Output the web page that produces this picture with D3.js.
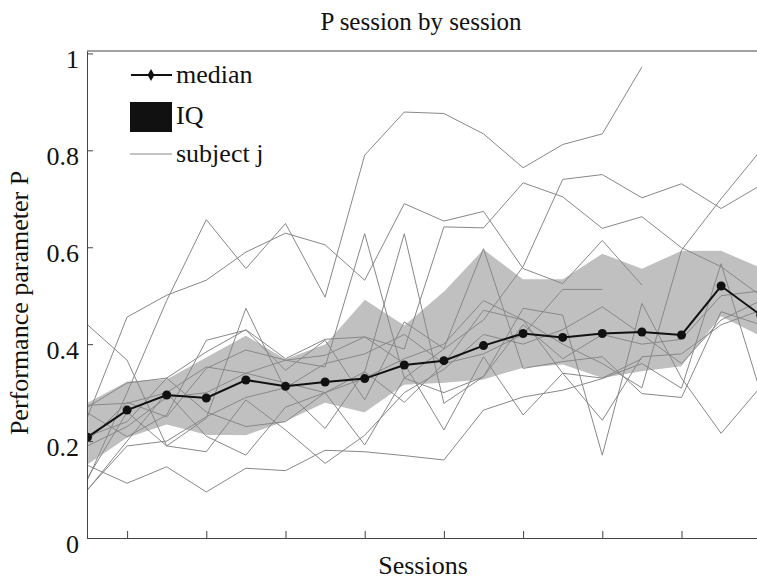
<!DOCTYPE html>
<html>
<head>
<meta charset="utf-8">
<script src="https://cdn.jsdelivr.net/npm/d3@7"></script>
<style>
  body { margin: 0; background: #fff; }
  svg text { font-family: "Liberation Serif", "Times New Roman", Tinos, Times, "DejaVu Serif", "Noto Serif", serif !important; fill: #111; }
</style>
</head>
<body>
<div id="chart"></div>
<script>
// sessions 1..18
const sessions = d3.range(1, 19);

const median = [0.208, 0.264, 0.295, 0.289, 0.326, 0.313, 0.322, 0.329, 0.357, 0.366, 0.397, 0.422, 0.414, 0.422, 0.425, 0.419, 0.52, 0.46];
const iqHigh = [0.28, 0.324, 0.329, 0.374, 0.419, 0.37, 0.401, 0.493, 0.44, 0.51, 0.597, 0.535, 0.535, 0.588, 0.557, 0.594, 0.594, 0.559];
const iqLow  = [0.15, 0.206, 0.233, 0.212, 0.211, 0.24, 0.278, 0.258, 0.315, 0.319, 0.326, 0.35, 0.357, 0.329, 0.343, 0.353, 0.456, 0.415];

// individual subjects (null = no session)
const subj1  = [0.12, 0.30, 0.49, 0.657, 0.556, 0.649, 0.497, 0.79, 0.879, 0.876, 0.834, 0.764, 0.812, 0.834, 0.972, null, null, null];
const subj2  = [0.25, 0.456, 0.501, 0.532, 0.59, 0.629, 0.605, 0.532, 0.69, 0.654, 0.674, 0.556, 0.525, 0.614, 0.522, null, null, null];
const subj3  = [0.27, 0.32, 0.33, 0.384, 0.43, 0.37, 0.41, 0.415, 0.39, 0.642, 0.64, 0.733, 0.704, 0.639, 0.663, 0.599, 0.56, 0.50];
const subj4  = [0.20, 0.28, 0.25, 0.35, 0.388, 0.367, 0.353, 0.628, 0.33, 0.39, 0.45, 0.56, 0.74, 0.75, 0.702, 0.731, 0.68, 0.728];
const subj5  = [0.10, 0.19, 0.20, 0.25, 0.29, 0.31, 0.36, 0.38, 0.42, 0.36, 0.47, 0.45, 0.40, 0.36, 0.31, 0.594, 0.70, 0.80];
const subj6  = [0.44, 0.367, 0.19, 0.247, 0.474, 0.305, 0.226, 0.343, 0.628, 0.278, 0.333, 0.474, 0.46, 0.171, 0.484, 0.33, 0.216, 0.312];
const subj7  = [0.258, 0.209, 0.254, 0.408, 0.429, 0.346, 0.408, 0.285, 0.446, 0.391, 0.597, 0.35, 0.364, 0.374, 0.298, 0.29, 0.467, 0.44];
const subj8  = [0.15, 0.113, 0.147, 0.095, 0.144, 0.139, 0.181, 0.178, 0.17, 0.161, 0.264, 0.291, 0.305, 0.329, 0.36, 0.309, 0.566, 0.30];
const subj9  = [0.274, 0.278, 0.30, 0.353, 0.34, 0.367, 0.377, 0.415, 0.36, 0.223, 0.374, 0.254, 0.34, 0.243, 0.374, 0.38, 0.44, 0.47];
const subj10 = [0.124, 0.26, 0.19, 0.178, 0.285, 0.223, 0.154, 0.212, 0.30, 0.348, 0.42, 0.40, 0.43, 0.477, 0.42, 0.36, 0.45, 0.49];
const subj11 = [0.099, 0.20, 0.30, 0.21, 0.171, 0.27, 0.30, 0.192, 0.33, 0.30, 0.333, 0.44, 0.37, 0.42, 0.40, 0.41, 0.50, 0.51];
const subj12 = [0.19, 0.23, 0.29, 0.30, 0.34, 0.32, 0.30, 0.343, 0.28, 0.36, 0.38, 0.42, 0.513, 0.513, null, null, null, null];
const subj13 = [0.21, 0.24, 0.33, 0.26, 0.23, 0.24, 0.30, 0.33, 0.37, 0.40, 0.49, 0.45, 0.34, 0.33, 0.37, null, null, null];
const subjects = [subj1, subj2, subj3, subj4, subj5, subj6, subj7, subj8, subj9, subj10, subj11, subj12, subj13];

const yTicks = [0, 0.2, 0.4, 0.6, 0.8, 1];
const xTicks = [2, 4, 6, 8, 10, 12, 14, 16];

const FONT = "'Liberation Serif', 'Times New Roman', Tinos, Times, 'DejaVu Serif', serif";
const W = 757, H = 580;
const svg = d3.select("#chart").append("svg")
  .attr("width", W)
  .attr("height", H)
  .attr("font-family", FONT);

const x = d3.scaleLinear().domain([1, 18]).range([87.5, 760.7]);
const y = d3.scaleLinear().domain([0, 1.005]).range([538, 51]);

svg.append("clipPath").attr("id", "plotclip")
  .append("rect").attr("x", 87).attr("y", 51).attr("width", W - 87).attr("height", 487);

const plot = svg.append("g").attr("clip-path", "url(#plotclip)");

// IQ band
const band = d3.area()
  .x((d, i) => x(sessions[i]))
  .y0((d, i) => y(iqLow[i]))
  .y1((d, i) => y(iqHigh[i]));

plot.append("path")
  .datum(median)
  .attr("d", band)
  .attr("fill", "#c0c0c0")
  .attr("stroke", "#fff")
  .attr("stroke-width", 1.2);

// subject lines
const subjLine = d3.line()
  .defined(d => d != null)
  .x((d, i) => x(sessions[i]))
  .y(d => y(d));

plot.selectAll(".subj")
  .data(subjects)
  .enter()
  .append("path")
  .attr("class", "subj")
  .attr("d", subjLine)
  .attr("fill", "none")
  .attr("stroke", "#888")
  .attr("stroke-width", 1);

// median
const medLine = d3.line()
  .x((d, i) => x(sessions[i]))
  .y(d => y(d));

plot.append("path")
  .datum(median)
  .attr("d", medLine)
  .attr("fill", "none")
  .attr("stroke", "#111")
  .attr("stroke-width", 2);

plot.selectAll(".med")
  .data(median)
  .enter()
  .append("circle")
  .attr("cx", (d, i) => x(sessions[i]))
  .attr("cy", d => y(d))
  .attr("r", 4.5)
  .attr("fill", "#111");

// axes
const yAxis = svg.append("g")
  .attr("transform", "translate(87,0)")
  .call(d3.axisLeft(y).tickValues(yTicks).tickSizeInner(-6).tickSizeOuter(0).tickPadding(8)
    .tickFormat(d => d === 0 ? "0" : d === 1 ? "1" : d3.format(".1f")(d)));
yAxis.attr("font-family", FONT);
yAxis.select(".domain").attr("stroke", "#444");
yAxis.selectAll(".tick line").attr("stroke", "#444");
yAxis.selectAll(".tick text")
  .attr("dy", "0.75em")
  .attr("y", -5)
  .style("font-size", "26px")
  .attr("fill", "#111");

const xAxis = svg.append("g")
  .attr("transform", "translate(0,538)")
  .call(d3.axisBottom(x).tickValues(xTicks).tickSizeInner(-7).tickSizeOuter(0).tickFormat(""));
xAxis.select(".domain").attr("stroke", "#444");
xAxis.selectAll(".tick line").attr("stroke", "#444");

// top border
svg.append("line")
  .attr("x1", 87).attr("x2", W)
  .attr("y1", 51).attr("y2", 51)
  .attr("stroke", "#444");

// titles
svg.append("text")
  .attr("x", 421)
  .attr("y", 30)
  .attr("text-anchor", "middle")
  .style("font-size", "25px")
  .text("P session by session");

svg.append("text")
  .attr("x", 423)
  .attr("y", 574)
  .attr("text-anchor", "middle")
  .style("font-size", "26px")
  .text("Sessions");

svg.append("text")
  .attr("transform", "translate(28,303) rotate(-90)")
  .attr("text-anchor", "middle")
  .style("font-size", "26px")
  .text("Performance parameter P");

// legend
const lg = svg.append("g");
lg.append("line")
  .attr("x1", 131).attr("x2", 172).attr("y1", 75).attr("y2", 75)
  .attr("stroke", "#111").attr("stroke-width", 2);
lg.append("path")
  .attr("d", d3.symbol(d3.symbolDiamond, 40)())
  .attr("transform", "translate(151,75)")
  .attr("fill", "#111");
lg.append("text").attr("x", 176).attr("y", 83).style("font-size", "26px").text("median");

lg.append("rect")
  .attr("x", 130).attr("y", 102).attr("width", 42).attr("height", 30)
  .attr("fill", "#111");
lg.append("text").attr("x", 176).attr("y", 124).style("font-size", "26px").text("IQ");

lg.append("line")
  .attr("x1", 130).attr("x2", 172).attr("y1", 154).attr("y2", 154)
  .attr("stroke", "#888").attr("stroke-width", 1);
lg.append("text").attr("x", 176).attr("y", 162).style("font-size", "26px").text("subject j");
</script>
</body>
</html>
